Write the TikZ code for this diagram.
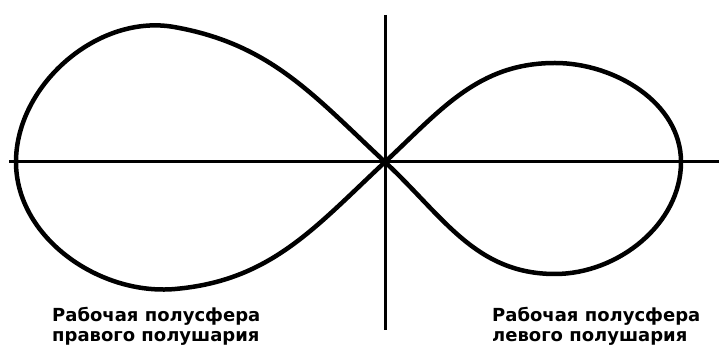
\documentclass[tikz,border=0pt]{standalone}
\usepackage{fontspec}
\setmainfont{DejaVu Sans}
\begin{document}
\begin{tikzpicture}[x=1pt,y=1pt,
  axis/.style={line width=3pt,black},
  lobe/.style={line width=4.5pt,black,line join=round},
  lbl/.style={anchor=base west,inner sep=0pt,font=\bfseries\fontsize{18}{21}\selectfont}]
\useasboundingbox (0,0) rectangle (719,347);
\coordinate (O) at (385,185);
\coordinate (ltop) at (174,320);
\coordinate (lleft) at (16,185);
\coordinate (lbot) at (175,58);
\coordinate (rtop) at (555,284);
\coordinate (rright) at (681,185);
\coordinate (rbot) at (555,73);
\coordinate (vt) at (385,332);
\coordinate (vb) at (385,17);
\coordinate (hl) at (9,185);
\coordinate (hr) at (719,185);
\draw[axis] (vt) -- (vb);
\draw[axis] (hl) -- (hr);
\draw[lobe] (O) to[out=137,in=-10] (ltop) to[out=170,in=90,looseness=0.95] (lleft)
  to[out=-90,in=185,looseness=0.95] (lbot) to[out=5,in=-137] (O);
\draw[lobe] (O) to[out=43,in=180] (rtop) to[out=0,in=90,looseness=0.95] (rright)
  to[out=-90,in=0,looseness=0.95] (rbot) to[out=180,in=-43] (O);
\node[lbl] (l1) at (52,25) {Рабочая полусфера};
\node[lbl] (l2) at (52,5) {правого полушария};
\node[lbl] (r1) at (492,25) {Рабочая полусфера};
\node[lbl] (r2) at (492,5) {левого полушария};
\end{tikzpicture}
\end{document}
